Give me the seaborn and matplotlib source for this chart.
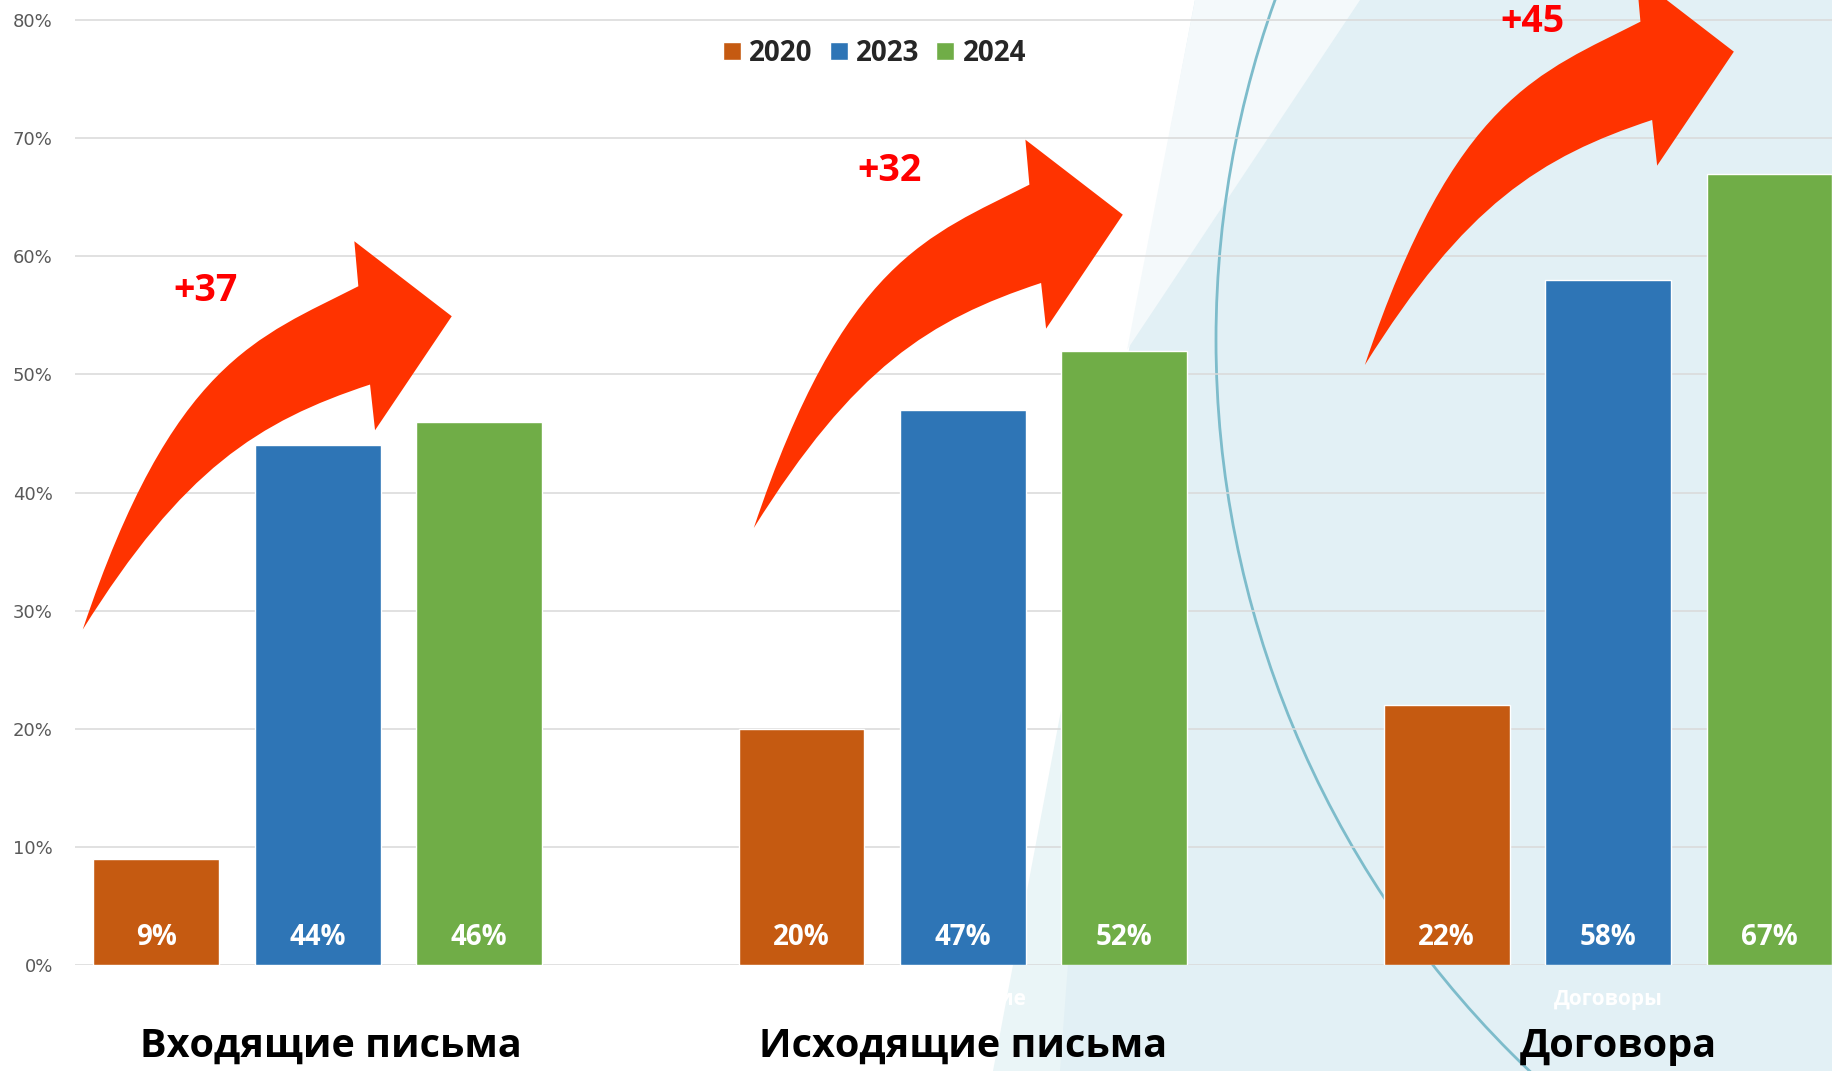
import numpy as np
import pandas as pd
import matplotlib
matplotlib.use("Agg")
import matplotlib.pyplot as plt
import seaborn as sns
from matplotlib.path import Path
from matplotlib.patches import PathPatch, Polygon, Circle
from matplotlib.transforms import IdentityTransform
from matplotlib.ticker import FuncFormatter

# data
categories = ["Входящие", "Исходящие", "Договоры"]
titles = ["Входящие письма", "Исходящие письма", "Договора"]
years = ["2020", "2023", "2024"]
v2020 = [9, 20, 22]
v2023 = [44, 47, 58]
v2024 = [46, 52, 67]
yticks = [0, 10, 20, 30, 40, 50, 60, 70, 80]

colors = {"2020": "#c55a11", "2023": "#2e75b6", "2024": "#70ad47"}

df = pd.DataFrame({
    "cat": categories * 3,
    "year": [y for y in years for _ in categories],
    "value": v2020 + v2023 + v2024,
})

sns.set_style("white")
plt.rcParams["font.family"] = ["DejaVu Sans"]
bold = dict(family="Open Sans", fontweight="bold")

W, H = 1832, 1071
fig = plt.figure(figsize=(W / 100, H / 100), dpi=100)

# slide background (pixel coords)
bg = fig.add_axes([0, 0, 1, 1], zorder=0)
bg.set_xlim(0, W)
bg.set_ylim(H, 0)
bg.axis("off")
bg.add_patch(Polygon([(1195, 0), (W, 0), (W, H), (993, H)], fc="#eaf5f7", ec="none"))
bg.add_patch(Polygon([(1195, 0), (W, 0), (W, H), (1060, H), (1104, 483)],
                     fc="#e2f0f5", ec="none"))
bg.add_patch(Polygon([(1195, 0), (1360, 0), (1127, 350)], fc="#f4f9fb", ec="none"))
bg.add_patch(Circle((2225, 340), 1009, fill=False, ec="#7dbccb", lw=2))

# chart
ax = fig.add_axes([75 / W, (H - 965) / H, 1 - 75 / W, 965 / H], zorder=1)
ax.patch.set_alpha(0)
sns.barplot(data=df, x="cat", y="value", hue="year", palette=colors,
            width=0.75, gap=0.22, saturation=1, errorbar=None, ax=ax)

ax.set_xlim(-0.376, 2.347)
ax.set_ylim(0, 81.7)
ax.set_yticks(yticks)
ax.yaxis.set_major_formatter(FuncFormatter(lambda v, p: f"{v:.0f}%"))
ax.yaxis.grid(True, color="#d9d9d9", lw=1.1)
ax.set_axisbelow(True)
ax.set_xlabel("")
ax.set_ylabel("")
sns.despine(ax=ax, left=True, bottom=True)
ax.tick_params(axis="y", length=0, pad=16, labelsize=13, labelcolor="#595959")
ax.tick_params(axis="x", length=0, pad=17, labelsize=15, labelcolor="white")
for t in ax.get_xticklabels():
    t.set_family("Open Sans")
    t.set_fontweight("bold")

# values inside bars
for cont in ax.containers:
    for bar in cont:
        h = bar.get_height()
        ax.text(bar.get_x() + bar.get_width() / 2, 1.7, f"{h:.0f}%",
                ha="center", va="baseline", color="white", fontsize=20, **bold)

# big group titles
title_dx = [0.02, 0.0, 0.016]
for i, t in enumerate(titles):
    ax.text(i + title_dx[i], -7.8, t, ha="center", va="baseline", fontsize=28.5,
            color="black", **bold)

# curved arrows (template in pixels, relative to tail)
arrow_tail = [(-0.364, 28.4), (-0.324, 37.0), (-0.377, 50.8)]
delta_pos = [(-0.174, 56.2), (-0.114, 66.4), (-0.117, 79.0)]
tpl = np.array([
    (0, 0), (90, 268), (175, 292), (275.6, 343.3),
    (271.6, 388.3), (369, 313.3), (292.3, 199.3), (287.3, 245),
    (175, 208), (100, 160), (0, 0), (0, 0),
])
codes = [Path.MOVETO, Path.CURVE4, Path.CURVE4, Path.CURVE4,
         Path.LINETO, Path.LINETO, Path.LINETO, Path.LINETO,
         Path.CURVE4, Path.CURVE4, Path.CURVE4, Path.CLOSEPOLY]
for i in range(len(categories)):
    dx, ty = arrow_tail[i]
    origin = ax.transData.transform((i + dx, ty))
    ax.add_patch(PathPatch(Path(tpl + origin, codes), fc="#ff3300", ec="none",
                           transform=IdentityTransform(), zorder=3))
    lx, ly = delta_pos[i]
    ax.text(i + lx, ly, f"+{v2024[i] - v2020[i]}", ha="center", va="baseline",
            color="#ff0000", fontsize=27, zorder=4, **bold)

sns.move_legend(ax, "center", bbox_to_anchor=(0.455, 0.945), ncol=3, title=None,
                frameon=False, handlelength=0.65, handleheight=0.65,
                handletextpad=0.3, columnspacing=0.6,
                prop={"family": "Open Sans", "weight": "bold", "size": 20})

fig.savefig("out.png", dpi=100)
